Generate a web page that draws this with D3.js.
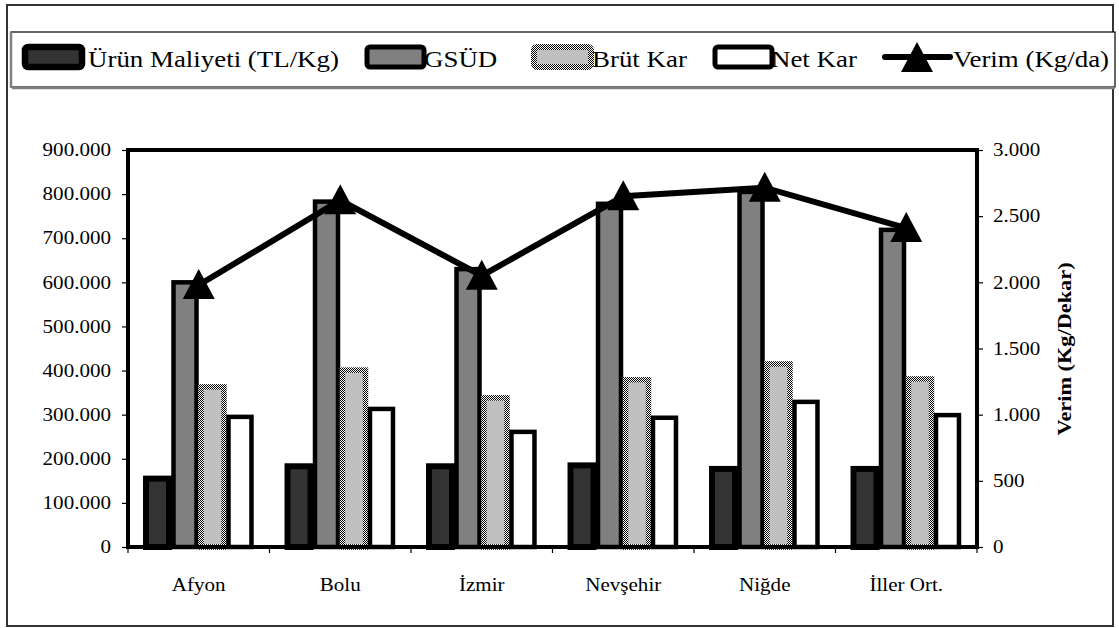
<!DOCTYPE html>
<html><head><meta charset="utf-8">
<script src="https://cdn.jsdelivr.net/npm/d3@7"></script>
<style>html,body{margin:0;padding:0;background:#fff;overflow:hidden}</style>
</head><body>
<svg id="chart"></svg>
<script>
const categories = ["Afyon", "Bolu", "İzmir", "Nevşehir", "Niğde", "İller Ort."];
const urunMaliyeti = [155000, 183000, 183000, 185000, 177000, 177000];
const gsud = [600000, 783000, 630000, 778000, 805000, 719000];
const brutKar = [363000, 401000, 338000, 379000, 415000, 381000];
const netKar = [295000, 313000, 261000, 293000, 329000, 299000];
const verim = [1980, 2620, 2050, 2650, 2715, 2410];
const leftTicks = [0, 100000, 200000, 300000, 400000, 500000, 600000, 700000, 800000, 900000];
const rightTicks = [0, 500, 1000, 1500, 2000, 2500, 3000];
const seriesNames = ["Ürün Maliyeti (TL/Kg)", "GSÜD", "Brüt Kar", "Net Kar"];
const lineName = "Verim (Kg/da)";
const rightTitle = "Verim (Kg/Dekar)";

const WIDTH = 1119, HEIGHT = 628;
const K = 1.17;                  // horizontal stretch of the text in the original picture
const FONT = "Liberation Serif";

const svg = d3.select("#chart").attr("width", WIDTH).attr("height", HEIGHT);

const defs = svg.append("defs");
const pat = defs.append("pattern").attr("id", "dither")
  .attr("patternUnits", "userSpaceOnUse").attr("width", 2).attr("height", 2);
pat.append("rect").attr("width", 2).attr("height", 2).attr("fill", "#fff");
pat.append("rect").attr("width", 1).attr("height", 1).attr("fill", "#000");
pat.append("rect").attr("x", 1).attr("y", 1).attr("width", 1).attr("height", 1).attr("fill", "#000");

// stretched text helper
function sText(g, x, y, str, size, anchor, weight) {
  return g.append("text")
    .attr("transform", `translate(${x},${y}) scale(${K},1)`)
    .attr("text-anchor", anchor || "start")
    .attr("font-family", FONT).attr("font-size", size)
    .attr("font-weight", weight || "normal").attr("fill", "#000").text(str);
}

// outer frame
svg.append("rect").attr("x", 7).attr("y", 5).attr("width", 1106).attr("height", 621)
  .attr("fill", "#fff").attr("stroke", "#333").attr("stroke-width", 2);

// plot geometry
const pl = 128, pr = 977, pt = 150, pb = 547;
const x0 = d3.scaleBand().domain(categories).range([pl, pr]).paddingInner(0.223).paddingOuter(0.1115);
const x1 = d3.scaleBand().domain(d3.range(4)).range([0, x0.bandwidth()]);
const yL = d3.scaleLinear().domain([0, 900000]).range([pb, pt]);
const yR = d3.scaleLinear().domain([0, 3000]).range([pb, pt]);
const cat = d3.scaleBand().domain(categories).range([pl, pr]);

const series = [urunMaliyeti, gsud, brutKar, netKar];
const fills = ["#333333", "#808080", "#c0c0c0", "#ffffff"];
const strokes = ["#000", "#000", "url(#dither)", "#000"];
const sw = [6, 4.5, 5.5, 4.5];

// bars
series.forEach((vals, si) => {
  const w = x1.bandwidth() - 4.5;
  svg.append("g").selectAll("rect").data(vals).join("rect")
    .attr("x", (d, i) => x0(categories[i]) + x1(si) + (x1.bandwidth() - w) / 2)
    .attr("y", d => yL(d))
    .attr("width", w)
    .attr("height", d => yL(0) - yL(d))
    .attr("fill", fills[si]).attr("stroke", strokes[si]).attr("stroke-width", sw[si]);
});

// plot border (axes)
svg.append("rect").attr("x", pl).attr("y", pt).attr("width", pr - pl).attr("height", pb - pt)
  .attr("fill", "none").attr("stroke", "#000").attr("stroke-width", 4);

const fmt = d3.formatLocale({decimal: ",", thousands: ".", grouping: [3], currency: ["", ""]}).format(",");
// left axis
const gL = svg.append("g").attr("transform", `translate(${pl},0)`)
  .call(d3.axisLeft(yL).tickValues(leftTicks).tickFormat(fmt).tickSize(6).tickPadding(11));
// right axis
const gR = svg.append("g").attr("transform", `translate(${pr},0)`)
  .call(d3.axisRight(yR).tickValues(rightTicks).tickFormat(fmt).tickSize(6).tickPadding(10));
// bottom axis: ticks at category boundaries
const gB = svg.append("g").attr("transform", `translate(0,${pb})`)
  .call(d3.axisBottom(cat).tickSize(0).tickPadding(31));
gB.selectAll(".tick line").remove();
gB.selectAll("line.b").data(d3.range(categories.length + 1)).join("line").attr("class", "b")
  .attr("x1", i => pl + i * cat.step()).attr("x2", i => pl + i * cat.step())
  .attr("y1", 0).attr("y2", 6).attr("stroke", "#000").attr("stroke-width", 1.2);

[gL, gR, gB].forEach(g => {
  g.attr("font-family", FONT).attr("font-size", 18);
  g.select(".domain").remove();
  g.selectAll(".tick line").attr("stroke", "#000").attr("stroke-width", 1.2);
  g.selectAll(".tick text").each(function () {
    const t = d3.select(this);
    const x = +t.attr("x") || 0;
    t.attr("x", x / K).attr("transform", `scale(${K},1)`)
      .attr("font-family", FONT).attr("font-size", 18).attr("fill", "#000");
  });
});

// line + markers
const line = d3.line().x((d, i) => cat(categories[i]) + cat.bandwidth() / 2).y(d => yR(d));
svg.append("path").datum(verim).attr("d", line).attr("fill", "none")
  .attr("stroke", "#000").attr("stroke-width", 6).attr("stroke-linejoin", "miter");
const tri = (cx, cy) => `M${cx},${cy - 16}L${cx + 16},${cy + 14}L${cx - 16},${cy + 14}Z`;
svg.append("g").selectAll("path").data(verim).join("path")
  .attr("d", (d, i) => tri(cat(categories[i]) + cat.bandwidth() / 2, yR(d)))
  .attr("fill", "#000");

// right axis title
svg.append("text")
  .attr("transform", `translate(1071,349) rotate(-90) scale(1.24,1.1)`)
  .attr("text-anchor", "middle").attr("font-family", FONT).attr("font-weight", "bold")
  .attr("font-size", 18).text(rightTitle);

// legend
const lg = svg.append("g");
lg.append("rect").attr("x", 11).attr("y", 32).attr("width", 1104).attr("height", 55)
  .attr("fill", "#fff").attr("stroke", "#000").attr("stroke-width", 1.2);
lg.append("line").attr("x1", 12).attr("x2", 1115).attr("y1", 88).attr("y2", 88)
  .attr("stroke", "#808080").attr("stroke-width", 2.5);
lg.append("line").attr("x1", 11).attr("x2", 11).attr("y1", 32).attr("y2", 88)
  .attr("stroke", "#808080").attr("stroke-width", 2.5);
const swX = [22, 364, 531, 712];
const txX = [88, 424, 592, 771];
seriesNames.forEach((n, i) => {
  lg.append("rect").attr("x", swX[i] + 3).attr("y", 47).attr("width", 57).attr("height", 20)
    .attr("rx", 3).attr("fill", fills[i]).attr("stroke", strokes[i]).attr("stroke-width", sw[i] + 0.5);
  sText(lg, txX[i], 67, n, 23);
});
lg.append("line").attr("x1", 885).attr("x2", 950).attr("y1", 57).attr("y2", 57)
  .attr("stroke", "#000").attr("stroke-width", 6).attr("stroke-linecap", "round");
lg.append("path").attr("d", tri(917, 58)).attr("fill", "#000");
sText(lg, 953, 67, lineName, 23);
</script>
</body></html>
